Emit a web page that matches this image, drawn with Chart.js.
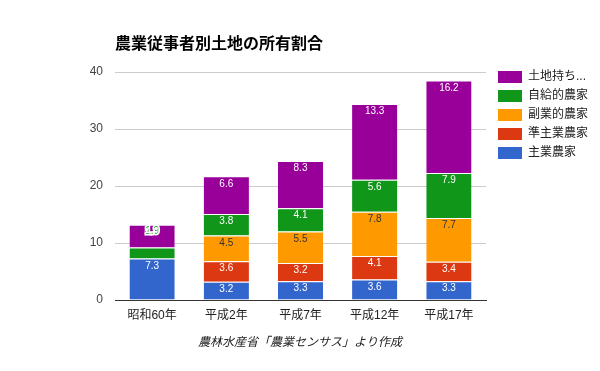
<!DOCTYPE html>
<html>
<head>
<meta charset="utf-8">
<script src="https://cdn.jsdelivr.net/npm/chart.js@4"></script>
<style>
  body { margin: 0; background: #fff; }
  #wrap { width: 600px; height: 371px; }
</style>
</head>
<body>
<div id="wrap"><canvas id="chart" width="600" height="371"></canvas></div>
<script>
const FONT = "'Liberation Sans', Arial, 'Noto Sans CJK JP', sans-serif"

const years = ['昭和60年', '平成2年', '平成7年', '平成12年', '平成17年']
const seriesNames = ['主業農家', '準主業農家', '副業的農家', '自給的農家', '土地持ち非農家']
const shugyo = [7.3, 3.2, 3.3, 3.6, 3.3]
const junshugyo = [0, 3.6, 3.2, 4.1, 3.4]
const fukugyo = [0, 4.5, 5.5, 7.8, 7.7]
const jikyu = [1.9, 3.8, 4.1, 5.6, 7.9]
const tochimochi = [4.0, 6.6, 8.3, 13.3, 16.2]
const yTicks = [0, 10, 20, 30, 40]

const colors = ['#3366cc', '#dc3912', '#ff9900', '#109618', '#990099']
const labelColors = ['#fff', '#fff', '#333', '#fff', '#fff']
const titleText = '農業従事者別土地の所有割合'
const sourceText = '農林水産省「農業センサス」より作成'

const values = [shugyo, junshugyo, fukugyo, jikyu, tochimochi]

// labels, title, legend and footnote
const decorations = {
    id: 'decorations',
    afterDatasetsDraw(chart) {
        const ctx = chart.ctx
        ctx.save()
        ctx.font = '10px ' + FONT
        ctx.textAlign = 'center'
        ctx.textBaseline = 'middle'
        chart.data.datasets.forEach((ds, di) => {
            const meta = chart.getDatasetMeta(di)
            meta.data.forEach((el, i) => {
                const v = ds.data[i]
                if (!v) return
                const h = el.base - el.y
                const txt = v.toFixed(1)
                if (h < 14) {
                    // too small: label is pushed up over the next segment
                    const y = el.y - 16
                    ctx.lineWidth = 3
                    ctx.strokeStyle = '#fff'
                    ctx.strokeText(txt, el.x, y)
                    ctx.fillStyle = colors[di]
                    ctx.fillText(txt, el.x, y)
                } else {
                    ctx.fillStyle = labelColors[di]
                    ctx.fillText(txt, el.x, el.y + 7.5)
                }
            })
        })

        // title
        ctx.textAlign = 'left'
        ctx.fillStyle = '#000'
        ctx.font = 'bold 16px ' + FONT
        ctx.fillText(titleText, 115, 45)

        // footnote
        ctx.textAlign = 'center'
        ctx.fillStyle = '#222'
        ctx.font = 'italic 12px ' + FONT
        ctx.fillText(sourceText, 300, 343)

        // legend (reverse order)
        ctx.textAlign = 'left'
        ctx.font = '12px ' + FONT
        for (let k = 0; k < seriesNames.length; k++) {
            const di = seriesNames.length - 1 - k
            const y = 77 + k * 19
            ctx.fillStyle = colors[di]
            ctx.fillRect(498, y - 6, 24, 12)
            let name = seriesNames[di]
            if (name.length > 5) name = name.slice(0, 4) + '...'
            ctx.fillStyle = '#222'
            ctx.fillText(name, 528, y)
        }
        ctx.restore()
    }
}

const datasets = values.map((arr, i) => ({
    label: seriesNames[i],
    data: arr,
    backgroundColor: colors[i],
    borderColor: '#fff',
    borderWidth: { top: 1, left: 0, right: 0, bottom: 0 },
    borderSkipped: false,
    barPercentage: 0.61,
    categoryPercentage: 1
}))

new Chart(document.getElementById('chart'), {
    type: 'bar',
    data: { labels: years, datasets: datasets },
    options: {
        responsive: false,
        animation: false,
        layout: { padding: { left: 0, right: 114, top: 72, bottom: 49 } },
        plugins: {
            legend: { display: false },
            title: { display: false },
            tooltip: { enabled: false }
        },
        scales: {
            x: {
                stacked: true,
                grid: { display: false, drawTicks: false },
                border: { color: '#333', width: 1 },
                ticks: { color: '#222', font: { size: 12, family: FONT }, padding: 8 },
                afterFit(s) { s.height = 22 }
            },
            y: {
                stacked: true,
                min: 0,
                max: 40,
                afterBuildTicks(s) { s.ticks = yTicks.map(v => ({ value: v })) },
                grid: {
                    color: c => c.tick && c.tick.value === 0 ? '#333' : '#ccc',
                    drawTicks: false
                },
                border: { display: false },
                ticks: { color: '#444', font: { size: 12, family: FONT }, padding: 12 },
                afterFit(s) { s.width = 115 }
            }
        }
    },
    plugins: [decorations]
})
</script>
</body>
</html>
